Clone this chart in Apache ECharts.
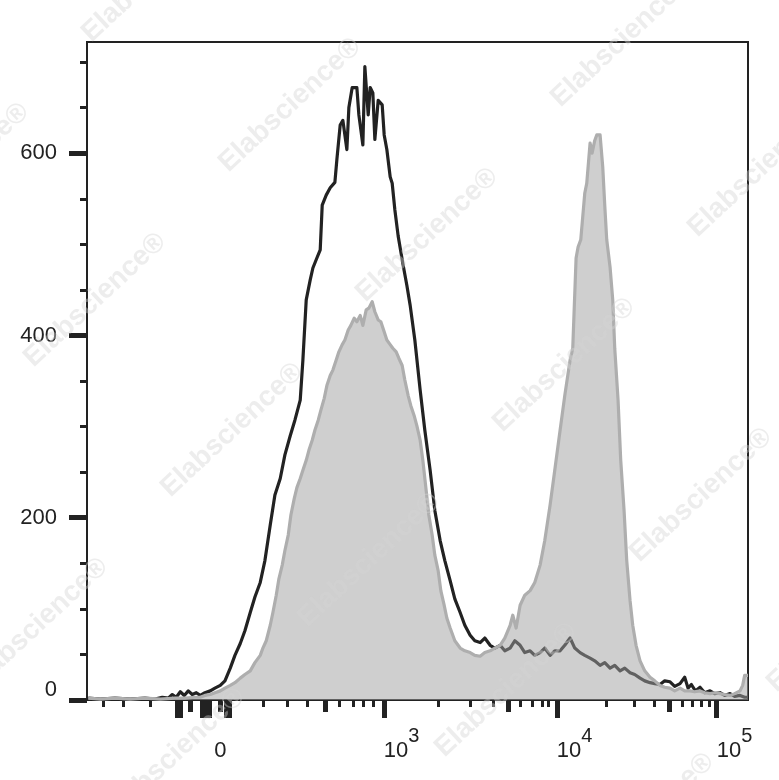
<!DOCTYPE html>
<html><head><meta charset="utf-8">
<script src="https://cdn.jsdelivr.net/npm/echarts@6/dist/echarts.min.js"></script>
<style>html,body{margin:0;padding:0;background:#fff}#c{width:779px;height:780px}</style>
</head><body><div id="c"></div>
<script>
// Channel positions (display scale 0..992) and event counts
const blackChannels = [
  2,20,42,65,87,102,113,122,128,134,
  140,146,152,158,164,170,177,185,192,200,
  207,215,222,230,237,245,252,260,267,275,
  282,290,297,305,312,320,324,329,335,339,
  345,350,353,359,365,372,375,380,384,390,
  393,398,405,408,414,417,422,425,429,432,
  437,443,446,450,455,458,462,467,474,480,
  485,492,500,507,515,522,530,537,545,552,
  560,567,575,582,590,597,605,612,620,627,
  635,642,650,657,665,672,680,687,695,702,
  710,717,725,732,740,747,755,762,770,777,
  785,792,800,807,815,822,830,837,845,852,
  860,867,875,882,890,897,902,907,913,920,
  927,935,942,950,957,965,972,980,987,992];
const blackCounts = [
  2,1,2,1,2,1,3,2,6,3,
  9,5,10,6,8,5,8,10,13,16,
  21,35,49,62,76,96,113,129,153,192,
  225,243,269,290,307,329,373,439,461,474,
  485,494,543,554,562,568,593,631,636,604,
  650,672,672,642,609,695,642,672,666,615,
  658,653,620,604,574,567,538,509,479,455,
  433,395,340,296,252,208,175,153,131,111,
  96,82,71,65,63,68,60,57,60,54,
  57,65,60,52,54,49,52,57,49,54,
  54,60,68,57,52,49,46,43,38,41,
  35,38,32,35,30,28,24,21,19,18,
  17,21,20,15,18,25,13,17,10,14,
  8,10,7,8,5,7,4,5,3,3];
const greyChannels = [
  2,20,42,65,87,110,132,147,162,170,
  177,185,192,200,207,215,222,230,237,245,
  252,260,264,269,275,279,284,288,293,297,
  302,306,311,315,320,324,329,333,338,342,
  347,351,356,360,365,369,374,378,383,387,
  392,396,401,405,410,414,419,423,428,432,
  437,441,446,450,455,459,464,468,473,477,
  482,486,491,495,500,504,509,513,518,522,
  527,531,536,540,545,552,560,567,575,582,
  590,597,605,612,620,627,635,639,644,650,
  657,665,672,680,687,695,702,710,717,725,
  729,734,737,741,747,750,755,758,762,765,
  770,773,774,777,780,785,789,792,797,801,
  806,810,815,819,824,830,837,845,852,860,
  867,875,882,890,897,905,912,920,927,935,
  942,950,957,965,972,980,984,987,992];
const greyCounts = [
  2,1,2,1,2,1,2,2,3,3,
  5,6,8,10,13,16,19,24,28,32,
  41,49,57,65,82,96,115,133,148,164,
  181,203,221,233,243,252,263,274,285,296,
  307,318,331,345,356,362,373,382,390,395,
  406,411,419,415,422,411,428,430,437,426,
  417,415,404,395,390,386,382,375,367,351,
  334,323,312,301,285,263,230,203,181,159,
  142,120,104,90,79,65,57,54,52,49,
  48,52,54,57,60,68,82,93,79,104,
  115,120,129,148,175,214,252,296,334,373,
  386,485,497,505,556,567,611,600,614,620,
  620,620,585,543,505,475,439,386,329,263,
  208,153,109,82,60,43,32,25,21,16,
  14,13,10,13,10,10,9,10,8,7,
  8,7,6,5,7,10,16,27,27];

const yMajorTicks = [0, 200, 400, 600];
const yMinorTicks = [50, 100, 150, 250, 300, 350, 450, 500, 550, 650, 700];
const xZeroTick = [200];
const xDecadeTicks = [445.5, 705, 945];
const xDecadeExponents = ['3', '4', '5'];
const xMajorTicks = [136, 139.5, 173, 178, 184, 209, 214, 445.5, 705, 945];
const xMediumTicks = [155, 200, 357, 631.5, 874.5];
const xMinorTicks = [24, 54, 94.5, 264, 300, 330, 378, 399, 414, 429,
  526.5, 574.5, 609, 649.5, 667.5, 682.5, 691.5,
  780, 822, 852, 894, 909, 922.5, 934.5];

const FONT = "'Liberation Sans', Arial, sans-serif";
const INK = '#222';
const gridBox = {left: 87, right: 31, top: 42, bottom: 80};
const labelRich = {
  b: {fontSize: 22, fontFamily: FONT, color: INK, lineHeight: 36, verticalAlign: 'bottom'},
  s: {fontSize: 20, fontFamily: FONT, color: INK, lineHeight: 14, verticalAlign: 'top'}
};

// watermark lattice
const marks = [];
for (let i = -3; i <= 6; i++) {
  for (let j = -3; j <= 3; j++) {
    const x = 290 + 137 * i + 195 * j;
    const y = 105 + 130 * i - 195 * j;
    if (x > -150 && x < 930 && y > -150 && y < 930) {
      marks.push({
        type: 'text', x: x, y: y, rotation: 0.75, z: 100, silent: true,
        style: {text: 'Elabscience®', fill: 'rgba(212,212,212,0.42)',
          font: "bold 28px 'Liberation Sans', Arial, sans-serif",
          align: 'center', verticalAlign: 'middle'}
      });
    }
  }
}

const chart = echarts.init(document.getElementById('c'), null, {renderer: 'canvas'});
const hiddenLine = {show: false};
chart.setOption({
  animation: false,
  backgroundColor: '#fff',
  grid: [
    Object.assign({show: true, borderColor: INK, borderWidth: 2, backgroundColor: 'transparent'}, gridBox),
    Object.assign({show: false}, gridBox),
    Object.assign({show: false}, gridBox)
  ],
  xAxis: [
    {gridIndex: 0, type: 'value', min: 0, max: 992,
      axisLine: hiddenLine, splitLine: {show: false},
      axisTick: {show: true, customValues: xMajorTicks, length: 18, lineStyle: {color: INK, width: 5}},
      axisLabel: {show: true, customValues: xDecadeTicks, margin: 26, align: 'left',
        formatter: v => '{b|10}{s|' + xDecadeExponents[xDecadeTicks.indexOf(v)] + '}', rich: labelRich}},
    {gridIndex: 1, type: 'value', min: 0, max: 992,
      axisLine: hiddenLine, splitLine: {show: false},
      axisTick: {show: true, customValues: xMinorTicks, length: 7, lineStyle: {color: INK, width: 3}},
      axisLabel: {show: false}},
    {gridIndex: 2, type: 'value', min: 0, max: 992,
      axisLine: hiddenLine, splitLine: {show: false},
      axisTick: {show: true, customValues: xMediumTicks, length: 12, lineStyle: {color: INK, width: 5}},
      axisLabel: {show: true, customValues: xZeroTick, margin: 26, align: 'center',
        formatter: () => '{b|0}', rich: labelRich}}
  ],
  yAxis: [
    {gridIndex: 0, type: 'value', min: 0, max: 722,
      axisLine: hiddenLine, splitLine: {show: false},
      axisTick: {show: true, customValues: yMajorTicks, length: 18, lineStyle: {color: INK, width: 5}},
      axisLabel: {show: true, customValues: yMajorTicks, margin: 30,
        formatter: v => v === 0 ? '{z|0}' : '{n|' + v + '}',
        rich: {
          z: {fontSize: 22, fontFamily: FONT, color: INK, padding: [0, 0, 20, 0]},
          n: {fontSize: 22, fontFamily: FONT, color: INK}
        }}},
    {gridIndex: 1, type: 'value', min: 0, max: 722,
      axisLine: hiddenLine, splitLine: {show: false},
      axisTick: {show: true, customValues: yMinorTicks, length: 7, lineStyle: {color: INK, width: 3}},
      axisLabel: {show: false}},
    {gridIndex: 2, type: 'value', min: 0, max: 722, show: false}
  ],
  series: [
    {type: 'line', xAxisIndex: 0, yAxisIndex: 0, z: 2,
      data: blackChannels.map((c, i) => [c, blackCounts[i]]),
      showSymbol: false, symbol: 'none',
      lineStyle: {color: '#222', width: 3.2, join: 'round'}},
    {type: 'line', xAxisIndex: 0, yAxisIndex: 0, z: 3,
      data: greyChannels.map((c, i) => [c, greyCounts[i]]),
      showSymbol: false, symbol: 'none',
      lineStyle: {color: '#aeaeae', width: 3.2, join: 'round'},
      areaStyle: {color: 'rgba(160,160,160,0.5)', opacity: 1}}
  ],
  graphic: {elements: marks}
});
</script>
</body></html>
